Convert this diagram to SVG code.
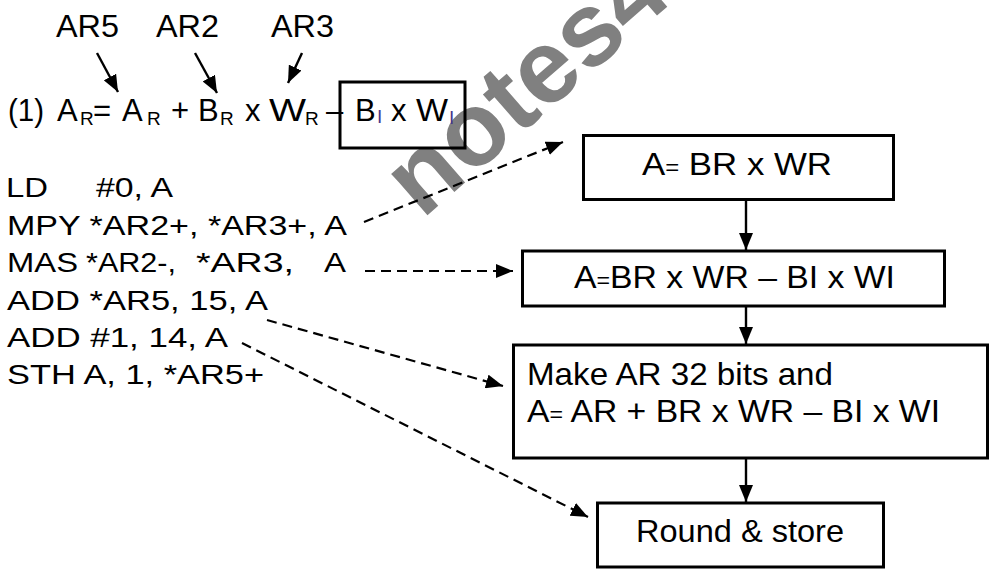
<svg xmlns="http://www.w3.org/2000/svg" width="990" height="571" viewBox="0 0 990 571">
<defs>
<style>
.t{font-family:"Liberation Sans",Arial,Helvetica,sans-serif;fill:#000;}
.eq{font-size:31px;}
.sub{font-size:19px;}
.si{font-size:19px;fill:#46378c;}
.code{font-size:27px;}
.bx{font-size:32px;}
.box{fill:none;stroke:#000;stroke-width:3;}
.ln{fill:none;stroke:#000;stroke-width:2.4;}
.dash{fill:none;stroke:#000;stroke-width:2.2;stroke-dasharray:10 6;}
.wm{font-family:"Liberation Sans",Arial,sans-serif;font-weight:bold;font-size:104px;fill:#808080;}
</style>
<marker id="ah" markerUnits="userSpaceOnUse" markerWidth="17" markerHeight="14" refX="17" refY="7" orient="auto">
<path d="M0,0 L17,7 L0,14 z" fill="#000"/>
</marker>
</defs>
<rect x="0" y="0" width="990" height="571" fill="#fff"/>
<text class="wm" x="422" y="220" transform="rotate(-41 422 220)">notes4</text>

<g id="equation">
<text class="t eq" x="56" y="37" textLength="63" lengthAdjust="spacingAndGlyphs">AR5</text>
<text class="t eq" x="156" y="37" textLength="63" lengthAdjust="spacingAndGlyphs">AR2</text>
<text class="t eq" x="271" y="37" textLength="63" lengthAdjust="spacingAndGlyphs">AR3</text>
<text class="t eq" x="8" y="121" textLength="36" lengthAdjust="spacingAndGlyphs">(1)</text>
<text class="t eq" x="57" y="121">A</text>
<text class="t sub" x="80" y="125">R</text>
<text class="t eq" x="93" y="121">=</text>
<text class="t eq" x="122" y="121">A</text>
<text class="t sub" x="147" y="125">R</text>
<text class="t eq" x="171" y="121">+</text>
<text class="t eq" x="198" y="121">B</text>
<text class="t sub" x="220" y="125">R</text>
<text class="t eq" x="245" y="121">x</text>
<text class="t eq" x="269" y="121" textLength="37" lengthAdjust="spacingAndGlyphs">W</text>
<text class="t sub" x="305" y="125">R</text>
<text class="t eq" x="326" y="121">–</text>
<text class="t eq" x="355" y="121">B</text>
<text class="t si" x="377" y="123">I</text>
<text class="t eq" x="391" y="121">x</text>
<text class="t eq" x="416" y="121" textLength="32" lengthAdjust="spacingAndGlyphs">W</text>
<text class="t si" x="449" y="124">I</text>
</g>
<g id="eq-box"><rect class="box" x="340" y="82" width="125" height="66"/></g>

<g id="code">
<text class="t code" x="6" y="197" textLength="42" lengthAdjust="spacingAndGlyphs">LD</text>
<text class="t code" x="96" y="197" textLength="77" lengthAdjust="spacingAndGlyphs">#0, A</text>
<text class="t code" x="7" y="234.5" textLength="340" lengthAdjust="spacingAndGlyphs">MPY *AR2+, *AR3+, A</text>
<text class="t code" x="7" y="272" textLength="71" lengthAdjust="spacingAndGlyphs">MAS</text>
<text class="t code" x="86" y="272" textLength="90" lengthAdjust="spacingAndGlyphs">*AR2-,</text>
<text class="t code" x="196" y="272" textLength="98" lengthAdjust="spacingAndGlyphs">*AR3,</text>
<text class="t code" x="324" y="272" textLength="22" lengthAdjust="spacingAndGlyphs">A</text>
<text class="t code" x="7" y="309.5" textLength="261" lengthAdjust="spacingAndGlyphs">ADD *AR5, 15, A</text>
<text class="t code" x="7" y="346.5" textLength="221" lengthAdjust="spacingAndGlyphs">ADD #1, 14, A</text>
<text class="t code" x="7" y="383.5" textLength="257" lengthAdjust="spacingAndGlyphs">STH A, 1, *AR5+</text>
</g>

<g id="node1">
<rect class="box" x="583.5" y="135.5" width="310" height="64"/>
<text class="t bx" x="642" y="175" textLength="190" lengthAdjust="spacingAndGlyphs">A<tspan font-size="22">=</tspan> BR x WR</text>
</g>
<g id="node2">
<rect class="box" x="522.5" y="251" width="422" height="55"/>
<text class="t bx" x="574" y="288" textLength="321" lengthAdjust="spacingAndGlyphs">A<tspan font-size="22">=</tspan>BR x WR – BI x WI</text>
</g>
<g id="node3">
<rect class="box" x="513.5" y="345" width="474" height="113"/>
<text class="t bx" x="527" y="385" textLength="306" lengthAdjust="spacingAndGlyphs">Make AR 32 bits and</text>
<text class="t bx" x="527" y="422" textLength="413" lengthAdjust="spacingAndGlyphs">A<tspan font-size="22">=</tspan> AR + BR x WR – BI x WI</text>
</g>
<g id="node4">
<rect class="box" x="597.5" y="503" width="286" height="64"/>
<text class="t bx" x="636" y="542" textLength="208" lengthAdjust="spacingAndGlyphs">Round &amp; store</text>
</g>

<g id="connectors">
<line class="ln" x1="97" y1="53" x2="118" y2="92" marker-end="url(#ah)"/>
<line class="ln" x1="195" y1="53" x2="217" y2="93" marker-end="url(#ah)"/>
<line class="ln" x1="302" y1="53" x2="288" y2="83" marker-end="url(#ah)"/>
<line class="ln" x1="746" y1="200" x2="746" y2="250" marker-end="url(#ah)"/>
<line class="ln" x1="746" y1="306" x2="746" y2="344" marker-end="url(#ah)"/>
<line class="ln" x1="746" y1="458" x2="746" y2="502" marker-end="url(#ah)"/>
<line class="dash" x1="364" y1="222" x2="563" y2="142" marker-end="url(#ah)"/>
<line class="dash" x1="365" y1="271" x2="513" y2="271" marker-end="url(#ah)"/>
<line class="dash" x1="267" y1="320" x2="503" y2="386" marker-end="url(#ah)"/>
<line class="dash" x1="242" y1="343" x2="588" y2="517" marker-end="url(#ah)"/>
</g>
</svg>
